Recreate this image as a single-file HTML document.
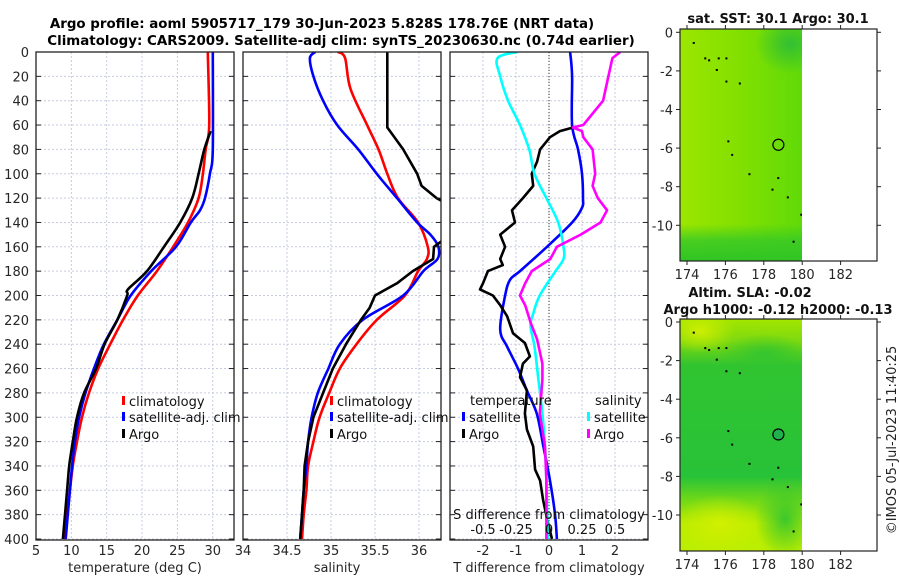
<!DOCTYPE html>
<html><head><meta charset="utf-8"><style>
html,body{margin:0;padding:0;background:#fff}
svg{display:block;font-family:"DejaVu Sans","Liberation Sans",sans-serif}
</style></head><body>
<svg id="fig" width="900" height="580" viewBox="0 0 900 580" xmlns="http://www.w3.org/2000/svg">
<defs>
<clipPath id="c1"><rect x="36" y="52" width="198" height="488"/></clipPath>
<clipPath id="c2"><rect x="243" y="52" width="198" height="488"/></clipPath>
<clipPath id="c3"><rect x="450" y="52" width="198" height="488"/></clipPath>
<linearGradient id="m1g" x1="0" x2="1" y1="0" y2="0"><stop offset="0" stop-color="#9ce600"/><stop offset="0.45" stop-color="#84e000"/><stop offset="1" stop-color="#60da08"/></linearGradient>
<linearGradient id="m1b" x1="0" x2="0" y1="0" y2="1"><stop offset="0" stop-color="#34c828" stop-opacity="0"/><stop offset="0.45" stop-color="#34c828" stop-opacity="0.8"/><stop offset="1" stop-color="#30c424" stop-opacity="1"/></linearGradient>
<radialGradient id="m1tr" cx="0.5" cy="0.5" r="0.5"><stop offset="0" stop-color="#2cbc38" stop-opacity="0.9"/><stop offset="1" stop-color="#2cbc38" stop-opacity="0"/></radialGradient>
<linearGradient id="m2v" x1="0" x2="0" y1="0" y2="1">
<stop offset="0" stop-color="#a4e600"/><stop offset="0.1" stop-color="#7cd810"/><stop offset="0.2" stop-color="#30c430"/><stop offset="0.68" stop-color="#28c238"/><stop offset="0.78" stop-color="#70d818"/><stop offset="0.88" stop-color="#b8ec00"/><stop offset="1" stop-color="#bcee00"/></linearGradient>
<radialGradient id="m2y" cx="0.5" cy="0.5" r="0.5"><stop offset="0" stop-color="#d4f000" stop-opacity="0.9"/><stop offset="1" stop-color="#d4f000" stop-opacity="0"/></radialGradient>
<radialGradient id="m2g" cx="0.5" cy="0.5" r="0.5"><stop offset="0" stop-color="#30c430" stop-opacity="0.9"/><stop offset="1" stop-color="#30c430" stop-opacity="0"/></radialGradient>
<clipPath id="mc1"><rect x="680" y="29" width="122" height="232"/></clipPath>
<clipPath id="mc2"><rect x="680" y="319" width="122" height="232"/></clipPath>
</defs>
<text x="322" y="28" text-anchor="middle" font-size="13.4" font-weight="bold">Argo profile: aoml 5905717_179 30-Jun-2023 5.828S 178.76E (NRT data)</text>
<text x="341" y="45" text-anchor="middle" font-size="13.4" font-weight="bold">Climatology: CARS2009. Satellite-adj clim: synTS_20230630.nc (0.74d earlier)</text>
<g id="panels"></g>
<g id="maps"></g>
<text transform="translate(896,440) rotate(-90)" text-anchor="middle" font-size="13" fill="#222">©IMOS 05-Jul-2023 11:40:25</text>
</svg>
<script>
const NS='http://www.w3.org/2000/svg';
const P=document.getElementById('panels');
function el(tag,attrs,parent){const e=document.createElementNS(NS,tag);for(const k in attrs)e.setAttribute(k,attrs[k]);(parent||P).appendChild(e);return e;}
function txt(x,y,s,attrs,parent){const t=el('text',Object.assign({x:x,y:y,'font-size':13,fill:'#262626'},attrs||{}),parent);t.textContent=s;return t;}

// ---- data ----
const depthTicks=[0,20,40,60,80,100,120,140,160,180,200,220,240,260,280,300,320,340,360,380,400];
const tempTicks=[5,10,15,20,25,30];
const salTicks=[34,34.5,35,35.5,36];
const tdiffTicks=[-2,-1,0,1,2];
const sdiffTicks=[-0.5,-0.25,0,0.25,0.5];
const sdiffTickLabels=['-0.5','-0.25','0','0.25','0.5'];

const climTDepth=[0,60,80,100,120,140,160,180,200,220,240,260,280,300,320,340,360,380,400];
const climT=[29.3,29.5,29.0,28.6,28.0,26.5,24.4,22.1,19.4,17.3,15.5,13.8,12.5,11.5,10.8,10.2,9.8,9.4,9.0];
const satTDepth=[0,80,100,120,130,140,160,180,200,220,240,260,280,300,320,340,360,380,400];
const satT=[30.0,30.0,29.6,28.9,28.2,26.9,24.8,21.3,18.4,16.5,14.6,13.2,12.0,11.1,10.5,10.1,9.8,9.5,9.2];
const argoTDepth=[65,80,100,120,140,160,180,195,200,220,240,260,280,300,320,340,360,380,400];
const argoT=[29.7,28.8,28.0,27.1,25.4,23.1,20.7,18.0,17.9,16.5,14.7,13.5,11.8,10.8,10.2,9.7,9.4,9.1,8.8];

const climSDepth=[0,5,30,60,80,100,120,140,160,170,180,200,220,240,260,280,300,320,340,360,380,400];
const climS=[35.08,35.16,35.22,35.41,35.54,35.64,35.76,35.99,36.10,36.09,35.99,35.84,35.52,35.29,35.10,34.98,34.87,34.80,34.74,34.72,34.69,34.67];
const satSDepth=[0,5,20,40,60,80,100,120,140,150,160,170,180,200,220,240,260,280,300,320,340,360,380,400];
const satS=[34.82,34.76,34.80,34.91,35.07,35.31,35.52,35.75,35.98,36.13,36.22,36.21,36.05,35.82,35.36,35.10,34.97,34.85,34.78,34.74,34.72,34.69,34.67,34.65];
const argoSDepth=[0,62,65,80,100,110,120,130,145,160,170,180,190,200,210,220,240,260,280,300,320,340,360,380,400];
const argoS=[35.64,35.64,35.67,35.82,35.98,36.03,36.20,36.45,36.45,36.17,36.16,35.93,35.75,35.50,35.44,35.34,35.17,35.02,34.91,34.80,34.74,34.70,34.69,34.67,34.65];

const satDTDepth=[0,20,60,80,100,120,128,140,160,180,187,200,228,242,260,278,297,324,352,379,400];
const satDT=[0.64,0.70,0.70,0.88,1.0,1.03,1.0,0.7,-0.06,-0.88,-1.18,-1.33,-1.48,-1.27,-0.94,-0.67,-0.37,-0.17,0.03,0.18,0.24];
const argoDTDepth=[62,65,70,80,90,100,110,120,130,140,150,160,170,175,180,190,195,200,208,217,231,239,250,256,267,278,297,310,324,343,352,368,387,400];
const argoDT=[0.73,0.33,0.03,-0.27,-0.36,-0.52,-0.48,-0.79,-1.12,-1.03,-1.48,-1.33,-1.48,-1.40,-1.85,-2.0,-2.09,-1.7,-1.48,-1.27,-1.09,-0.73,-0.58,-0.79,-0.88,-0.67,-0.73,-0.67,-0.48,-0.42,-0.27,-0.18,-0.03,0.09];
const satDSDepth=[0,5,20,40,60,80,100,120,140,160,170,180,200,215,225,242,269,297,324,352,400];
const satDS=[-0.24,-0.39,-0.37,-0.31,-0.22,-0.15,-0.11,-0.02,0.07,0.11,0.11,0.05,-0.07,-0.12,-0.14,-0.11,-0.08,-0.05,-0.03,-0.02,-0.01];
const argoDSDepth=[0,5,20,40,60,62,65,70,80,100,110,120,130,140,150,160,170,180,190,200,208,222,236,256,269,297,324,352,400];
const argoDS=[0.54,0.48,0.45,0.41,0.26,0.18,0.25,0.26,0.33,0.35,0.33,0.37,0.44,0.39,0.24,0.06,0.01,-0.13,-0.18,-0.22,-0.18,-0.14,-0.09,-0.05,-0.05,-0.07,-0.03,-0.02,-0.02];

// ---- scales ----
const yD=d=>52+d*1.2175;
const xT=v=>36+(v-5)*7.07;
const xS=v=>243+(v-34)*88;
const xDT=v=>549+v*33;
const xDS=v=>549+v*132;

function frame(x0,name,xticksPx){
  const g=el('g',{});
  
  
  el('rect',{x:x0,y:52,width:198,height:488,fill:'#fff'},g);
  depthTicks.forEach(d=>{el('line',{x1:x0,x2:x0+198,y1:yD(d),y2:yD(d),stroke:'#c6cbe0','stroke-width':1,'stroke-dasharray':'2,2'},g);});
  xticksPx.forEach(x=>{el('line',{x1:x,x2:x,y1:52,y2:540,stroke:'#c6cbe0','stroke-width':1,'stroke-dasharray':'2,2'},g);});
  return g;
}
function border(x0,g){
  depthTicks.forEach(d=>{el('line',{x1:x0,x2:x0+5,y1:yD(d),y2:yD(d),stroke:'#222'},g);el('line',{x1:x0+193,x2:x0+198,y1:yD(d),y2:yD(d),stroke:'#222'},g);});
  el('rect',{x:x0,y:52,width:198,height:488,fill:'none',stroke:'#222','stroke-width':1.3},g);
}
function line(xs,ds,xf,color,clip,name,smooth){
  const pts=xs.map((v,i)=>[xf(v),yD(ds[i])]);
  let d='M'+pts[0][0].toFixed(1)+','+pts[0][1].toFixed(1);
  for(let i=0;i<pts.length-1;i++){
    if(smooth){
      const p0=pts[Math.max(0,i-1)],p1=pts[i],p2=pts[i+1],p3=pts[Math.min(pts.length-1,i+2)];
      const c1=[p1[0]+(p2[0]-p0[0])/6,p1[1]+(p2[1]-p0[1])/6],c2=[p2[0]-(p3[0]-p1[0])/6,p2[1]-(p3[1]-p1[1])/6];
      d+=' C'+c1.map(v=>v.toFixed(1)).join(',')+' '+c2.map(v=>v.toFixed(1)).join(',')+' '+p2[0].toFixed(1)+','+p2[1].toFixed(1);
    } else d+=' L'+pts[i+1][0].toFixed(1)+','+pts[i+1][1].toFixed(1);
  }
  const p=el('path',{d:d,fill:'none',stroke:color,'stroke-width':2.6,'stroke-linejoin':'round','clip-path':'url(#'+clip+')'});
  
  
  return p;
}

// Panel 1
frame(36,'temperature-panel',tempTicks.slice(1).map(xT));
depthTicks.forEach(d=>{txt(29,yD(d)+5,String(d),{'text-anchor':'end'});});
tempTicks.forEach(v=>txt(xT(v),555,String(v),{'text-anchor':'middle'}));
txt(135,572,'temperature (deg C)',{'text-anchor':'middle'});
line(climT,climTDepth,xT,'#ff0000','c1','temp-climatology-line',true);
line(satT,satTDepth,xT,'#0000ff','c1','temp-satellite-line',true);
line(argoT,argoTDepth,xT,'#000000','c1','temp-argo-line',true);
border(36,P);
// Panel 2
frame(243,'salinity-panel',salTicks.slice(1).map(xS));
salTicks.forEach(v=>txt(xS(v),555,String(v),{'text-anchor':'middle'}));
txt(337,572,'salinity',{'text-anchor':'middle'});
line(climS,climSDepth,xS,'#ff0000','c2','sal-climatology-line',true);
line(satS,satSDepth,xS,'#0000ff','c2','sal-satellite-line',true);
line(argoS,argoSDepth,xS,'#000000','c2','sal-argo-line',false);
border(243,P);
// Panel 3
frame(450,'difference-panel',tdiffTicks.map(xDT));
el('line',{x1:549,x2:549,y1:52,y2:540,stroke:'#333','stroke-width':1,'stroke-dasharray':'1,2'});
tdiffTicks.forEach(v=>txt(xDT(v),555,String(v),{'text-anchor':'middle'}));
txt(549,572,'T difference from climatology',{'text-anchor':'middle'});
line(satDT,satDTDepth,xDT,'#0000ff','c3','tdiff-satellite-line',true);
line(argoDT,argoDTDepth,xDT,'#000000','c3','tdiff-argo-line',false);
line(satDS,satDSDepth,xDS,'#00ffff','c3','sdiff-satellite-line',true);
line(argoDS,argoDSDepth,xDS,'#ff00ff','c3','sdiff-argo-line',false);
txt(549,519,'S difference from climatology',{'text-anchor':'middle',fill:'#111'});
sdiffTicks.forEach((v,i)=>txt(xDS(v),534,sdiffTickLabels[i],{'text-anchor':'middle',fill:'#111'}));
border(450,P);

// legends
function leg(x,y,c,s,name){
  const g=el('g',{});
  
  
  el('rect',{x:x,y:y-10,width:3,height:9,fill:c},g);
  txt(x+7,y,s,{fill:'#111'},g);
}
leg(122,406,'#ff0000','climatology','legend-climatology');
leg(122,422,'#0000ff','satellite-adj. clim','legend-satellite-adj');
leg(122,439,'#000000','Argo','legend-argo');
leg(330,406,'#ff0000','climatology','legend-sal-climatology');
leg(330,422,'#0000ff','satellite-adj. clim','legend-sal-satellite-adj');
leg(330,439,'#000000','Argo','legend-sal-argo');
txt(470,405,'temperature',{fill:'#111'});
txt(595,405,'salinity',{fill:'#111'});
leg(462,422,'#0000ff','satellite','legend-t-satellite');
leg(462,439,'#000000','Argo','legend-t-argo');
leg(587,422,'#00ffff','satellite','legend-s-satellite');
leg(587,439,'#ff00ff','Argo','legend-s-argo');

// ---- maps ----
const M=document.getElementById('maps');
const latTicks=[0,-2,-4,-6,-8,-10];
const lonTicks=[174,176,178,180,182];
const islands=[[174.3,-0.5],[174.9,-1.3],[175.1,-1.4],[175.6,-1.3],[176.0,-1.3],[175.5,-1.9],[176.0,-2.5],[176.7,-2.6],[176.1,-5.6],[176.3,-6.3],[177.2,-7.3],[178.7,-7.5],[178.4,-8.1],[179.2,-8.5],[179.9,-9.4],[179.5,-10.8]];
function map(top,z0,kind){
  const g=el('g',{},M);
  
  
  const lx=v=>687+(v-174)*19.2, ly=v=>z0-v*19.3;
  const b=el('g',{'clip-path':'url(#'+(kind==='sst'?'mc1':'mc2')+')'},g);
  if(kind==='sst'){
    el('rect',{x:680,y:top,width:122,height:232,fill:'url(#m1g)'},b);
    el('rect',{x:680,y:top+195,width:122,height:37,fill:'url(#m1b)'},b);
    el('ellipse',{cx:790,cy:top+15,rx:35,ry:30,fill:'url(#m1tr)'},b);
  } else {
    el('rect',{x:680,y:top,width:122,height:232,fill:'url(#m2v)'},b);
    el('ellipse',{cx:700,cy:top+12,rx:35,ry:22,fill:'url(#m2y)'},b);
    el('ellipse',{cx:720,cy:top+205,rx:45,ry:30,fill:'url(#m2y)'},b);
    el('ellipse',{cx:785,cy:top+200,rx:30,ry:40,fill:'url(#m2g)'},b);
    el('ellipse',{cx:765,cy:top+35,rx:45,ry:20,fill:'url(#m2g)'},b);
  }
  islands.forEach(p=>el('rect',{x:lx(p[0]),y:ly(p[1]),width:2,height:2,fill:'#000'},b));
  el('circle',{cx:lx(178.76),cy:ly(-5.828),r:5.5,fill:kind==='sst'?'none':'#20b050',stroke:'#000','stroke-width':1.2},g);
  el('rect',{x:680,y:top,width:197,height:232,fill:'none',stroke:'#222','stroke-width':1.2},g);
  latTicks.forEach(v=>{el('line',{x1:676,x2:680,y1:ly(v),y2:ly(v),stroke:'#222'},g);el('line',{x1:877,x2:881,y1:ly(v),y2:ly(v),stroke:'#222'},g);txt(673,ly(v)+5,String(v),{'text-anchor':'end'},g);});
  lonTicks.forEach(v=>{el('line',{x1:lx(v),x2:lx(v),y1:top+232,y2:top+236,stroke:'#222'},g);el('line',{x1:lx(v),x2:lx(v),y1:top-4,y2:top,stroke:'#222'},g);txt(lx(v),top+250,String(v),{'text-anchor':'middle'},g);});
  return g;
}
const mg1=map(29,32.3,'sst');
txt(778,23,'sat. SST: 30.1 Argo: 30.1',{'text-anchor':'middle','font-weight':'bold',fill:'#111'},mg1);
const mg2=map(319,322,'sla');
txt(750,297,'Altim. SLA: -0.02',{'text-anchor':'middle','font-weight':'bold',fill:'#111'},mg2);
txt(778,314,'Argo h1000: -0.12 h2000: -0.13',{'text-anchor':'middle','font-weight':'bold',fill:'#111'},mg2);
</script>
</body></html>
